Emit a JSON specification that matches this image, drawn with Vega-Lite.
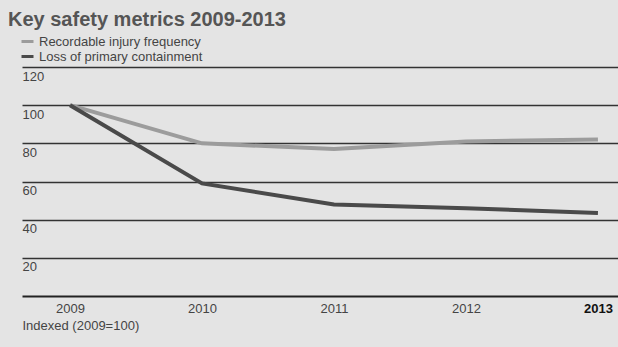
{
  "$schema": "https://vega.github.io/schema/vega-lite/v6.json",
  "autosize": "none",
  "width": 596,
  "height": 229,
  "padding": {"left": 22, "top": 67, "right": 0, "bottom": 51},
  "background": "#e4e4e4",
  "title": {
    "text": "Key safety metrics 2009-2013",
    "anchor": "start",
    "frame": "group",
    "dx": -14,
    "offset": 4,
    "fontSize": 20,
    "fontWeight": "bold",
    "color": "#555555",
    "font": "Liberation Sans"
  },
  "config": {
    "view": {"stroke": null},
    "font": "Liberation Sans"
  },
  "data": {
    "values": [
      {"year": 2009, "series": "Recordable injury frequency", "value": 100},
      {"year": 2010, "series": "Recordable injury frequency", "value": 80},
      {"year": 2011, "series": "Recordable injury frequency", "value": 77},
      {"year": 2012, "series": "Recordable injury frequency", "value": 81},
      {"year": 2013, "series": "Recordable injury frequency", "value": 82},
      {"year": 2009, "series": "Loss of primary containment", "value": 100},
      {"year": 2010, "series": "Loss of primary containment", "value": 59},
      {"year": 2011, "series": "Loss of primary containment", "value": 48},
      {"year": 2012, "series": "Loss of primary containment", "value": 46},
      {"year": 2013, "series": "Loss of primary containment", "value": 43.5}
    ]
  },
  "mark": {"type": "line", "strokeWidth": 4},
  "encoding": {
    "x": {
      "field": "year",
      "type": "quantitative",
      "scale": {"domain": [2008.636, 2013.152], "nice": false, "zero": false},
      "axis": {
        "values": [2009, 2010, 2011, 2012, 2013],
        "format": "d",
        "grid": false,
        "ticks": false,
        "domainColor": "#222222",
        "domainWidth": 2,
        "labelPadding": 6,
        "labelFontSize": 13,
        "labelColor": {"condition": {"test": "datum.value == 2013", "value": "#111111"}, "value": "#444444"},
        "labelFontWeight": {"condition": {"test": "datum.value == 2013", "value": "bold"}, "value": "normal"},
        "title": "Indexed (2009=100)",
        "titleAnchor": "start",
        "titleAlign": "left",
        "titleFontWeight": "normal",
        "titleFontSize": 13,
        "titleColor": "#444444",
        "titlePadding": 4
      }
    },
    "y": {
      "field": "value",
      "type": "quantitative",
      "scale": {"domain": [0, 120], "nice": false},
      "axis": {
        "values": [20, 40, 60, 80, 100, 120],
        "grid": true,
        "gridColor": "#333333",
        "gridWidth": 1.3,
        "domain": false,
        "ticks": false,
        "labelAlign": "left",
        "labelBaseline": "top",
        "labelPadding": 0,
        "labelOffset": 3,
        "labelFontSize": 13,
        "labelColor": "#444444",
        "title": null
      }
    },
    "color": {
      "field": "series",
      "type": "nominal",
      "sort": ["Recordable injury frequency", "Loss of primary containment"],
      "scale": {
        "domain": ["Recordable injury frequency", "Loss of primary containment"],
        "range": ["#9c9c9c", "#4a4a4a"]
      },
      "legend": {
        "orient": "none",
        "legendX": -2,
        "legendY": -33,
        "title": null,
        "symbolType": "stroke",
        "symbolStrokeWidth": 3,
        "symbolSize": 144,
        "labelFontSize": 13,
        "labelColor": "#444444",
        "labelLimit": 0,
        "rowPadding": 0,
        "labelOffset": 4
      }
    }
  }
}
